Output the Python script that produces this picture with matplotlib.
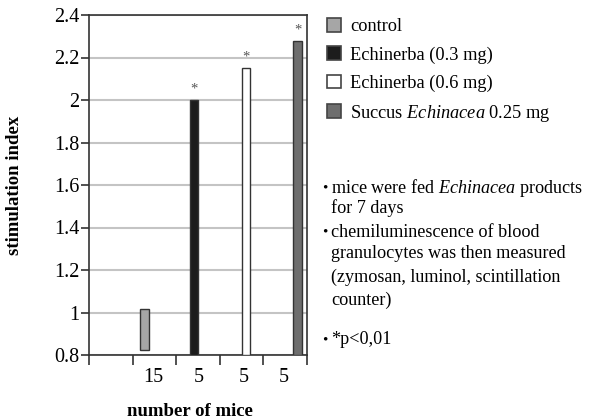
import matplotlib
matplotlib.use("Agg")
import matplotlib.pyplot as plt
from matplotlib.patches import Patch

plt.rcParams['font.family'] = ['Liberation Serif', 'DejaVu Serif']
plt.rcParams['mathtext.fontset'] = 'custom'
plt.rcParams['mathtext.rm'] = 'Liberation Serif'
plt.rcParams['mathtext.it'] = 'Liberation Serif:italic'

# === data ===
groups = ['control', 'Echinerba (0.3 mg)', 'Echinerba (0.6 mg)',
          'Succus $\\mathit{Echinacea}$ 0.25 mg']
tops = [1.015, 2.0, 2.15, 2.28]
bottoms = [0.825, 0.8, 0.8, 0.8]
significant = [False, True, True, True]
n_mice = ['15', '5', '5', '5']
notes = [
    ('\u2022', 'mice were fed $\\mathit{Echinacea}$ products'),
    ('', 'for 7 days'),
    ('\u2022', 'chemiluminescence of blood'),
    ('', 'granulocytes was then measured'),
    ('', '(zymosan, luminol, scintillation'),
    ('', 'counter)'),
    ('\u2022', '*p<0,01'),
]

# === styles / layout ===
colors = ['#a6a6a6', '#1c1c1c', '#ffffff', '#6e6e6e']
bar_x = [1.28, 2.41, 3.60, 4.79]
label_x = [1.47, 2.52, 3.56, 4.47]
note_y = [188, 208, 232, 253, 277, 300, 340]   # pixel rows from top

W, H = 590, 420
fig = plt.figure(figsize=(W / 100, H / 100), dpi=100)
ax = fig.add_axes([89 / W, 1 - 355 / H, 218 / W, 340 / H])

ax.set_axisbelow(True)
ax.yaxis.grid(True, color='#c4c4c4', linewidth=1.5)

heights = [t - b for t, b in zip(tops, bottoms)]
ax.bar(bar_x, heights, bottom=bottoms, width=0.2, color=colors,
       edgecolor='#333333', linewidth=1.0, zorder=3)

for x, t, s in zip(bar_x, tops, significant):
    if s:
        ax.annotate('*', (x, t), xytext=(0, 3), textcoords='offset points',
                    ha='center', va='bottom', fontsize=10.5, color='#555555')

ax.set_xlim(0, 5)
ax.set_ylim(0.8, 2.4)
ax.set_yticks([0.8 + 0.2 * i for i in range(9)])
ax.set_yticklabels(['0.8', '1', '1.2', '1.4', '1.6', '1.8', '2', '2.2', '2.4'])
ax.set_xticks(range(6))
ax.set_xticklabels([])
ax.set_xticks(label_x, minor=True)
ax.set_xticklabels(n_mice, minor=True)
ax.tick_params(axis='x', which='major', direction='out', length=7,
               width=1.2, color='#333333')
ax.tick_params(axis='x', which='minor', length=0, pad=9, labelsize=14.5)
ax.tick_params(axis='y', direction='out', length=6, width=1.2,
               color='#333333', labelsize=14.5, pad=1)
for sp in ax.spines.values():
    sp.set_color('#333333')
    sp.set_linewidth(1.2)

ax.set_ylabel('stimulation index', fontsize=13.5, fontweight='bold')
ax.yaxis.set_label_coords(-0.305, 0.5)
fig.text(190 / W, 1 - 412 / H, 'number of mice', fontsize=13.5,
         fontweight='bold', ha='center', va='center')

handles = [Patch(facecolor=c, edgecolor='#444444', linewidth=1.2) for c in colors]
fig.legend(handles, groups, loc='upper left', bbox_to_anchor=(320 / W, 1 - 11 / H),
           frameon=False, fontsize=13.2, handlelength=0.75, handleheight=0.75,
           handletextpad=0.5, labelspacing=0.59, borderaxespad=0)

for (bullet, line), y in zip(notes, note_y):
    if bullet:
        fig.text(322 / W, 1 - y / H, bullet, fontsize=11, ha='left', va='center')
    fig.text(331 / W, 1 - y / H, line, fontsize=13.1, ha='left', va='center')

fig.savefig('out.png', dpi=100)
